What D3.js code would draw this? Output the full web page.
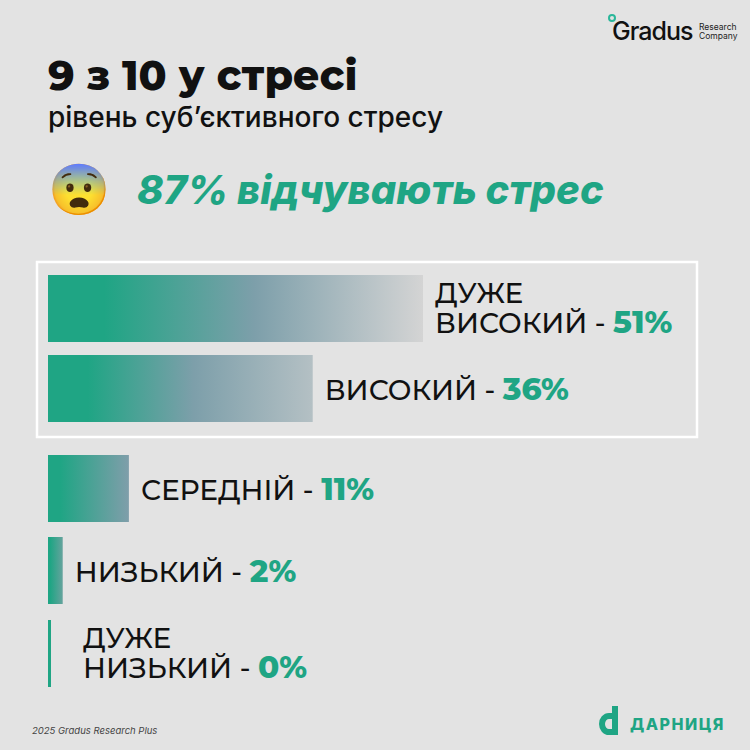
<!DOCTYPE html>
<html><head><meta charset="utf-8">
<script src="https://cdn.jsdelivr.net/npm/d3@7"></script>
<style>body{margin:0;background:#e3e3e3}svg{display:block}</style>
</head><body>
<div id="content"></div>
<script>
var categories = [["ДУЖЕ", "ВИСОКИЙ"], ["ВИСОКИЙ"], ["СЕРЕДНІЙ"], ["НИЗЬКИЙ"], ["ДУЖЕ", "НИЗЬКИЙ"]];
var values = [51, 36, 11, 2, 0];
var barTops = [275, 355, 455, 537, 620];
var green = "#1fa584";

var width = 750, height = 750;
var svg = d3.select("#content").append("svg").attr("width", width).attr("height", height);
svg.append("rect").attr("width", width).attr("height", height).attr("fill", "#e3e3e3");

var x = d3.scaleLinear().domain([0, 51]).range([0, 375]);
var endColor = d3.scaleLinear().domain([0, 11, 51]).range(["#5fa49a", "#7f9eaa", "#d4d4d4"]);

var defs = svg.append("defs");
values.forEach(function(v, i){
    var g = defs.append("linearGradient").attr("id", "g" + i);
    g.append("stop").attr("offset", "0%").attr("stop-color", green);
    g.append("stop").attr("offset", "15%").attr("stop-color", green);
    if (v > 20) g.append("stop").attr("offset", "55%").attr("stop-color", "#7d9faa");
    g.append("stop").attr("offset", "100%").attr("stop-color", endColor(v));
});

// header
svg.append("text").attr("x", 48).attr("y", 90).text("9 з 10 у стресі")
    .attr("font-family", "Montserrat, Inter, sans-serif").attr("font-weight", 800)
    .attr("font-size", 41).attr("fill", "#111");
svg.append("text").attr("x", 48).attr("y", 127).text("рівень суб’єктивного стресу")
    .attr("font-family", "Inter, sans-serif").attr("font-weight", 500)
    .attr("font-size", 28).attr("fill", "#111");
svg.append("text").attr("x", 48).attr("y", 207).text("😨").attr("font-size", 50);
svg.append("text").attr("x", 137).attr("y", 204).text("87% відчувають стрес")
    .attr("font-family", "Inter, sans-serif").attr("font-weight", 800).attr("font-style", "italic")
    .attr("font-size", 40).attr("fill", green);

// logo top right
svg.append("circle").attr("cx", 612).attr("cy", 18).attr("r", 3).attr("fill", "none")
    .attr("stroke", "#2ab79a").attr("stroke-width", 2);
svg.append("text").attr("x", 612).attr("y", 40).text("Gradus")
    .attr("font-family", "Inter, sans-serif").attr("font-weight", 500).attr("font-size", 25)
    .attr("letter-spacing", -1).attr("fill", "#111");
svg.append("text").attr("x", 699).attr("y", 30).text("Research")
    .attr("font-family", "Inter, sans-serif").attr("font-size", 8.5).attr("fill", "#222");
svg.append("text").attr("x", 699).attr("y", 39).text("Company")
    .attr("font-family", "Inter, sans-serif").attr("font-size", 8.5).attr("fill", "#222");

// box
svg.append("rect").attr("x", 37).attr("y", 262).attr("width", 660).attr("height", 175)
    .attr("fill", "none").attr("stroke", "#fff").attr("stroke-width", 2.5);

var bh = 67;
values.forEach(function(v, i){
    var w = Math.max(3, x(v));
    svg.append("rect").attr("x", 48).attr("y", barTops[i]).attr("width", w).attr("height", bh)
        .attr("fill", v > 0 ? "url(#g" + i + ")" : green);
    var lx = 48 + w + (v > 0 ? 12 : 32);
    var lines = categories[i];
    var t = svg.append("text").attr("font-family", "Montserrat, Inter, sans-serif")
        .attr("font-size", 28).attr("font-weight", 500).attr("fill", "#111");
    var cy = barTops[i] + bh / 2;
    var y0 = lines.length > 1 ? cy - 6 : cy + 11;
    lines.forEach(function(l, j){
        var ts = t.append("tspan").attr("x", lx).attr("y", y0 + j * 30).text(l);
        if (j === lines.length - 1) {
            ts.text(l + " - ");
            t.append("tspan").attr("font-weight", 800).attr("font-size", 31).attr("fill", green).text(v + "%");
        }
    });
});

// footer
svg.append("text").attr("x", 32).attr("y", 734).text("2025 Gradus Research Plus")
    .attr("font-family", "Inter, sans-serif").attr("font-style", "italic").attr("font-size", 9.5).attr("fill", "#444");
svg.append("path").attr("d", "M613,716 h-4 a7,8 0 1,0 0,16 h6 v-26")
    .attr("fill", "none").attr("stroke", green).attr("stroke-width", 6);
svg.append("text").attr("x", 630).attr("y", 730).text("ДАРНИЦЯ")
    .attr("font-family", "Inter, sans-serif").attr("font-weight", 800).attr("font-size", 16)
    .attr("letter-spacing", 1.5).attr("fill", green);
</script>
</body></html>
